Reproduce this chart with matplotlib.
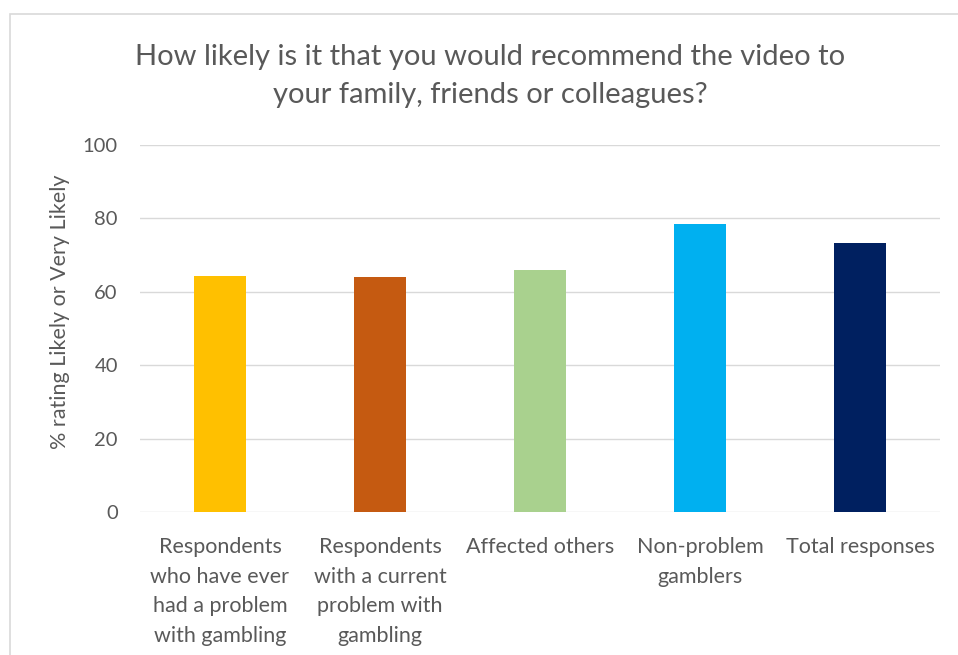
import matplotlib.pyplot as plt
from matplotlib.patches import Rectangle

categories = [
    "Respondents\nwho have ever\nhad a problem\nwith gambling",
    "Respondents\nwith a current\nproblem with\ngambling",
    "Affected others",
    "Non-problem\ngamblers",
    "Total responses",
]
values = [64.2, 63.9, 65.9, 78.4, 73.2]
colors = ["#FFC000", "#C55A11", "#A9D18E", "#00B0F0", "#002060"]
yticks = [0, 20, 40, 60, 80, 100]

plt.rcParams['font.family'] = ['Lato', 'DejaVu Sans']
text_col = "#595959"

fig = plt.figure(figsize=(9.58, 6.55), dpi=100)
ax = fig.add_axes([140 / 958, 1 - 512 / 655, 800 / 958, 367 / 655])

x = range(len(values))
ax.bar(x, values, width=0.32, color=colors, zorder=3)

ax.set_xlim(-0.5, len(values) - 0.5)
ax.set_ylim(0, 100)
ax.set_yticks(yticks)
ax.set_yticklabels([str(t) for t in yticks], fontsize=14.5)
ax.set_xticks(list(x))
ax.set_xticklabels(categories, linespacing=1.6, fontsize=15.5)
ax.tick_params(axis='both', length=0, colors=text_col)
ax.tick_params(axis='y', pad=16)
ax.tick_params(axis='x', pad=18)
ax.grid(axis='y', color="#D9D9D9", linewidth=1.0, zorder=0)
for s in ax.spines.values():
    s.set_visible(False)

fig.text(490 / 958, 1 - 76 / 655,
         "How likely is it that you would recommend the video to\nyour family, friends or colleagues?",
         ha='center', va='center', fontsize=21, color=text_col, linespacing=1.55)
fig.text(60 / 958, 1 - 312 / 655, "% rating Likely or Very Likely",
         rotation=90, ha='center', va='center', fontsize=15.5, color=text_col)

# chart frame, cut off at the right and bottom
fig.patches.append(Rectangle((10 / 958, -0.2), 1.2, 1.2 - 14 / 655,
                             transform=fig.transFigure, fill=False,
                             edgecolor="#D9D9D9", linewidth=1.2))

fig.savefig("out.png", dpi=100)
